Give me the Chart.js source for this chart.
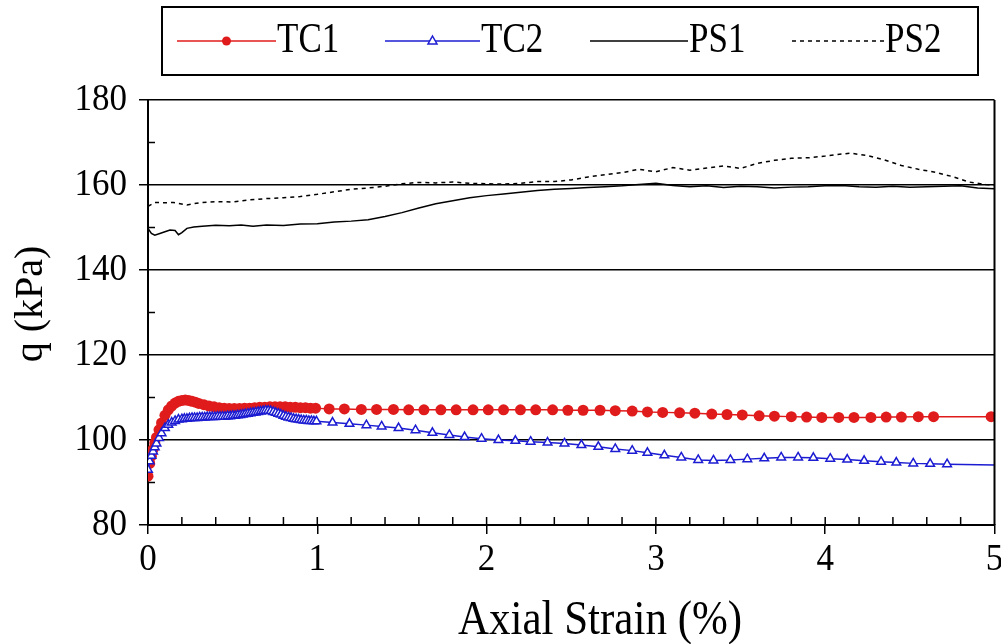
<!DOCTYPE html>
<html>
<head>
<meta charset="utf-8">
<script src="https://cdn.jsdelivr.net/npm/chart.js@4"></script>
<style>
  html, body { margin: 0; padding: 0; background: #fff; }
  #wrap { width: 1001px; height: 644px; }
</style>
</head>
<body>
<div id="wrap"><canvas id="stressChart" width="1001" height="644"></canvas></div>
<script>
// axis ticks
var yTicks = [80, 100, 120, 140, 160, 180];
var xTicks = [0, 1, 2, 3, 4, 5];

// TC1 (red dots)
var tc1Strain = [0, 0.01, 0.02, 0.03, 0.04, 0.05, 0.065, 0.08, 0.1, 0.12, 0.14, 0.16, 0.18, 0.2, 0.22, 0.24, 0.26, 0.28, 0.3,
    0.33, 0.36, 0.39, 0.42, 0.45, 0.48, 0.51, 0.54, 0.57, 0.6, 0.63, 0.66, 0.69, 0.72, 0.75, 0.78, 0.81, 0.84, 0.87, 0.9, 0.93, 0.96, 0.99,
    1.07, 1.16, 1.26, 1.35, 1.45, 1.54, 1.63, 1.73, 1.82, 1.92, 2.01, 2.10, 2.20, 2.29, 2.39, 2.48, 2.57, 2.67, 2.76, 2.86,
    2.95, 3.04, 3.14, 3.23, 3.33, 3.42, 3.51, 3.61, 3.70, 3.80, 3.89, 3.98, 4.08, 4.17, 4.27, 4.36, 4.45, 4.55, 4.64, 4.98];
var tc1Q = [91.5, 94.5, 96.2, 97.8, 99.3, 100.6, 102.4, 104.0, 105.8, 107.1, 108.0, 108.7, 109.1, 109.3, 109.4, 109.3, 109.1, 108.9, 108.6,
    108.3, 108.0, 107.8, 107.6, 107.5, 107.4, 107.4, 107.4, 107.5, 107.5, 107.6, 107.7, 107.7, 107.8, 107.8, 107.8, 107.8, 107.7, 107.7, 107.6, 107.6, 107.5, 107.5,
    107.3, 107.3, 107.2, 107.2, 107.2, 107.1, 107.1, 107.1, 107.1, 107.1, 107.1, 107.1, 107.1, 107.1, 107.1, 107.0, 107.0, 107.0, 106.9, 106.8,
    106.6, 106.5, 106.4, 106.3, 106.1, 106.0, 105.9, 105.7, 105.6, 105.5, 105.4, 105.3, 105.3, 105.3, 105.3, 105.4, 105.4, 105.5, 105.5, 105.5];

// TC2 (blue triangles)
var tc2Strain = [0, 0.01, 0.02, 0.03, 0.04, 0.05, 0.065, 0.08, 0.1, 0.12, 0.14, 0.16, 0.18,
    0.2, 0.215, 0.23, 0.245, 0.26, 0.275, 0.29, 0.305, 0.32, 0.335, 0.35, 0.365, 0.38, 0.395, 0.41, 0.425, 0.44, 0.455,
    0.47, 0.485, 0.5, 0.515, 0.53, 0.545, 0.56, 0.575, 0.59, 0.605, 0.62, 0.635, 0.65, 0.665, 0.68, 0.695, 0.71, 0.725,
    0.74, 0.755, 0.77, 0.785, 0.8, 0.815, 0.83, 0.845, 0.86, 0.875, 0.89, 0.905, 0.92, 0.935, 0.95, 0.965, 0.98, 0.995,
    1.09, 1.19, 1.29, 1.38, 1.48, 1.58, 1.68, 1.78, 1.87, 1.97, 2.07, 2.17, 2.26, 2.36, 2.46, 2.56, 2.66, 2.76, 2.86, 2.95,
    3.05, 3.15, 3.25, 3.34, 3.44, 3.54, 3.64, 3.74, 3.84, 3.93, 4.03, 4.13, 4.23, 4.33, 4.42, 4.52, 4.62, 4.72, 5.0];
var tc2Q = [93.0, 95.0, 96.3, 97.3, 98.3, 99.2, 100.5, 101.6, 102.8, 103.6, 104.1, 104.5, 104.8,
    104.9, 105.0, 105.0, 105.1, 105.2, 105.2, 105.2, 105.3, 105.3, 105.3, 105.4, 105.4, 105.4, 105.4, 105.5, 105.5, 105.5, 105.5,
    105.6, 105.6, 105.7, 105.7, 105.8, 105.9, 106.0, 106.1, 106.2, 106.3, 106.4, 106.5, 106.6, 106.7, 106.8, 106.9, 106.9, 106.8,
    106.6, 106.4, 106.2, 106.0, 105.7, 105.5, 105.3, 105.2, 105.0, 104.9, 104.8, 104.7, 104.6, 104.6, 104.5, 104.5, 104.4, 104.4,
    104.1, 103.8, 103.5, 103.2, 102.8, 102.3, 101.7, 101.2, 100.7, 100.3, 100.0, 99.8, 99.6, 99.4, 99.2, 98.8, 98.4, 97.9, 97.5, 97.0,
    96.4, 95.9, 95.3, 95.2, 95.3, 95.5, 95.7, 95.9, 95.9, 95.8, 95.6, 95.4, 95.1, 94.9, 94.7, 94.5, 94.4, 94.3, 94.1];

// PS1 (solid black)
var ps1Strain = [0, 0.02, 0.04, 0.07, 0.1, 0.13, 0.16, 0.18, 0.2, 0.23, 0.27, 0.32, 0.4, 0.48, 0.55, 0.62, 0.7, 0.8, 0.9, 1.0,
    1.1, 1.2, 1.3, 1.4, 1.5, 1.6, 1.7, 1.8, 1.9, 2.0, 2.1, 2.2, 2.3, 2.4, 2.5, 2.6, 2.7, 2.8, 2.9, 3.0,
    3.1, 3.2, 3.3, 3.4, 3.5, 3.6, 3.7, 3.8, 3.9, 4.0, 4.1, 4.2, 4.3, 4.4, 4.5, 4.6, 4.7, 4.8, 4.9, 5.0];
var ps1Q = [149.8, 148.6, 148.2, 148.6, 149.0, 149.4, 149.3, 148.3, 148.8, 149.8, 150.1, 150.3, 150.5, 150.4, 150.6, 150.3, 150.6, 150.5, 150.8, 150.9,
    151.3, 151.5, 151.8, 152.6, 153.5, 154.6, 155.6, 156.3, 157.0, 157.5, 157.9, 158.3, 158.7, 159.0, 159.2, 159.4, 159.6, 159.8, 160.1, 160.4,
    159.9, 159.6, 159.8, 159.4, 159.7, 159.6, 159.3, 159.5, 159.6, 159.8, 159.9, 159.6, 159.5, 159.7, 159.5, 159.6, 159.7, 159.8, 159.3, 159.1];

// PS2 (dashed black)
var ps2Strain = [0, 0.04, 0.1, 0.15, 0.23, 0.3, 0.4, 0.5, 0.6, 0.7, 0.8, 0.9, 1.0, 1.1, 1.2, 1.3, 1.4, 1.5, 1.6, 1.7, 1.8, 1.9, 2.0,
    2.1, 2.2, 2.3, 2.4, 2.5, 2.6, 2.7, 2.8, 2.9, 3.0, 3.1, 3.2, 3.3, 3.4, 3.5, 3.6, 3.7, 3.8, 3.9, 4.0, 4.1, 4.15,
    4.25, 4.35, 4.45, 4.55, 4.65, 4.75, 4.85, 4.95, 5.0];
var ps2Q = [155.0, 155.9, 155.8, 155.9, 155.3, 155.8, 156.1, 156.0, 156.5, 156.8, 157.0, 157.3, 157.8, 158.4, 159.0, 159.3, 159.7, 160.3, 160.6, 160.5, 160.7, 160.4, 160.3,
    160.2, 160.4, 160.8, 160.8, 161.2, 161.9, 162.4, 162.9, 163.7, 163.1, 164.1, 163.5, 164.0, 164.5, 163.9, 165.1, 165.8, 166.3, 166.4, 166.8, 167.3, 167.5,
    166.9, 165.9, 164.6, 163.7, 163.0, 162.0, 160.7, 160.1, 160.0];

var RED = '#e01b1b';
var BLUE = '#1c1cd2';
var SERIF = '"Liberation Serif", "Times New Roman", serif';

function pairs(xs, ys) {
    return xs.map(function(x, i) { return {x: x, y: ys[i]}; });
}

// text in the figure is a little tall and narrow, so allow a vertical stretch
function tallText(ctx, text, x, y, size, align, stretch, rotated) {
    ctx.save();
    ctx.translate(x, y);
    if (rotated) {
        ctx.rotate(-Math.PI / 2);
    }
    ctx.scale(1, stretch);
    ctx.font = size + 'px ' + SERIF;
    ctx.fillStyle = '#000';
    ctx.textAlign = align;
    ctx.textBaseline = 'middle';
    ctx.fillText(text, 0, 0);
    ctx.restore();
}

var figurePlugin = {
    id: 'figure',
    afterDraw: function(chart) {
        var ctx = chart.ctx;
        var area = chart.chartArea;
        var xs = chart.scales.x, ys = chart.scales.y;

        ctx.save();
        ctx.strokeStyle = '#000';
        // right frame
        ctx.lineWidth = 2;
        ctx.beginPath();
        ctx.moveTo(area.right, area.top);
        ctx.lineTo(area.right, area.bottom);
        ctx.stroke();

        // x ticks pointing into the plot (majors and minors every 0.2)
        ctx.lineWidth = 1.5;
        for (var i = 1; i < 25; i++) {
            var px = xs.getPixelForValue(i * 0.2);
            ctx.beginPath();
            ctx.moveTo(px, area.bottom);
            ctx.lineTo(px, area.bottom - 8);
            ctx.stroke();
        }
        // y minor ticks inside
        for (var v = 90; v < 180; v += 20) {
            var py = ys.getPixelForValue(v);
            ctx.beginPath();
            ctx.moveTo(area.left, py);
            ctx.lineTo(area.left + 7, py);
            ctx.stroke();
        }
        ctx.restore();

        // tick labels
        yTicks.forEach(function(t) {
            tallText(ctx, String(t), 127, ys.getPixelForValue(t), 35, 'right', 1.1);
        });
        xTicks.forEach(function(t) {
            tallText(ctx, String(t), xs.getPixelForValue(t), 560, 35, 'center', 1.1);
        });

        // axis titles
        tallText(ctx, 'Axial Strain (%)', 600, 621, 43, 'center', 1.15);
        tallText(ctx, 'q (kPa)', 31, 304, 40, 'center', 1, true);

        // legend
        ctx.save();
        ctx.strokeStyle = '#000';
        ctx.lineWidth = 2;
        ctx.strokeRect(162, 7, 816, 68);
        var ly = 41;
        var items = [
            {label: 'TC1', x0: 177, x1: 276, color: RED, mark: 'dot'},
            {label: 'TC2', x0: 385, x1: 480, color: BLUE, mark: 'tri'},
            {label: 'PS1', x0: 590, x1: 688, color: '#000', mark: null},
            {label: 'PS2', x0: 792, x1: 884, color: '#000', mark: null, dash: true}
        ];
        items.forEach(function(it) {
            ctx.strokeStyle = it.color;
            ctx.lineWidth = 1.5;
            ctx.setLineDash(it.dash ? [4, 4] : []);
            ctx.beginPath();
            ctx.moveTo(it.x0, ly);
            ctx.lineTo(it.x1, ly);
            ctx.stroke();
            ctx.setLineDash([]);
            var mx = (it.x0 + it.x1) / 2;
            if (it.mark === 'dot') {
                ctx.fillStyle = it.color;
                ctx.beginPath();
                ctx.arc(mx, ly, 4.5, 0, Math.PI * 2);
                ctx.fill();
            } else if (it.mark === 'tri') {
                ctx.fillStyle = '#fff';
                ctx.beginPath();
                ctx.moveTo(mx, ly - 5);
                ctx.lineTo(mx + 4.5, ly + 3);
                ctx.lineTo(mx - 4.5, ly + 3);
                ctx.closePath();
                ctx.fill();
                ctx.stroke();
            }
            tallText(ctx, it.label, it.x1 + 1, ly, 35, 'left', 1.2);
        });
        ctx.restore();
    }
};

var stressChart = new Chart(document.getElementById('stressChart'), {
    type: 'line',
    data: {
        datasets: [
            {
                label: 'PS1',
                data: pairs(ps1Strain, ps1Q),
                borderColor: '#000',
                borderWidth: 1.5,
                pointRadius: 0,
                tension: 0
            },
            {
                label: 'PS2',
                data: pairs(ps2Strain, ps2Q),
                borderColor: '#000',
                borderWidth: 1.5,
                borderDash: [4, 4],
                pointRadius: 0,
                tension: 0
            },
            {
                label: 'TC2',
                data: pairs(tc2Strain, tc2Q),
                borderColor: BLUE,
                borderWidth: 1.5,
                pointStyle: 'triangle',
                pointRadius: function(c) { return c.dataIndex === tc2Strain.length - 1 ? 0 : 5; },
                pointBackgroundColor: '#fff',
                pointBorderColor: BLUE,
                pointBorderWidth: 1.5,
                tension: 0
            },
            {
                label: 'TC1',
                data: pairs(tc1Strain, tc1Q),
                borderColor: RED,
                borderWidth: 1.5,
                pointStyle: 'circle',
                pointRadius: 5.5,
                pointBackgroundColor: RED,
                pointBorderColor: RED,
                pointBorderWidth: 0,
                tension: 0
            }
        ]
    },
    options: {
        responsive: false,
        animation: false,
        layout: { padding: { top: 100, right: 3, left: 0, bottom: 0 } },
        plugins: {
            legend: { display: false },
            tooltip: { enabled: false }
        },
        scales: {
            x: {
                type: 'linear',
                min: 0,
                max: 5,
                ticks: { display: false, stepSize: 1 },
                grid: { drawOnChartArea: false, drawTicks: true, tickLength: 9, color: '#000', lineWidth: 1.5 },
                border: { display: true, color: '#000', width: 2 },
                afterFit: function(scale) {
                    scale.height = 119;
                    scale.paddingLeft = 0;
                    scale.paddingRight = 0;
                }
            },
            y: {
                min: 80,
                max: 180,
                ticks: { display: false, stepSize: 20 },
                grid: { drawOnChartArea: true, drawTicks: true, tickLength: 9, color: '#000', lineWidth: 1.5 },
                border: { display: true, color: '#000', width: 2 },
                afterFit: function(scale) {
                    scale.width = 148;
                    scale.paddingTop = 0;
                    scale.paddingBottom = 0;
                }
            }
        }
    },
    plugins: [figurePlugin]
});
</script>
</body>
</html>
